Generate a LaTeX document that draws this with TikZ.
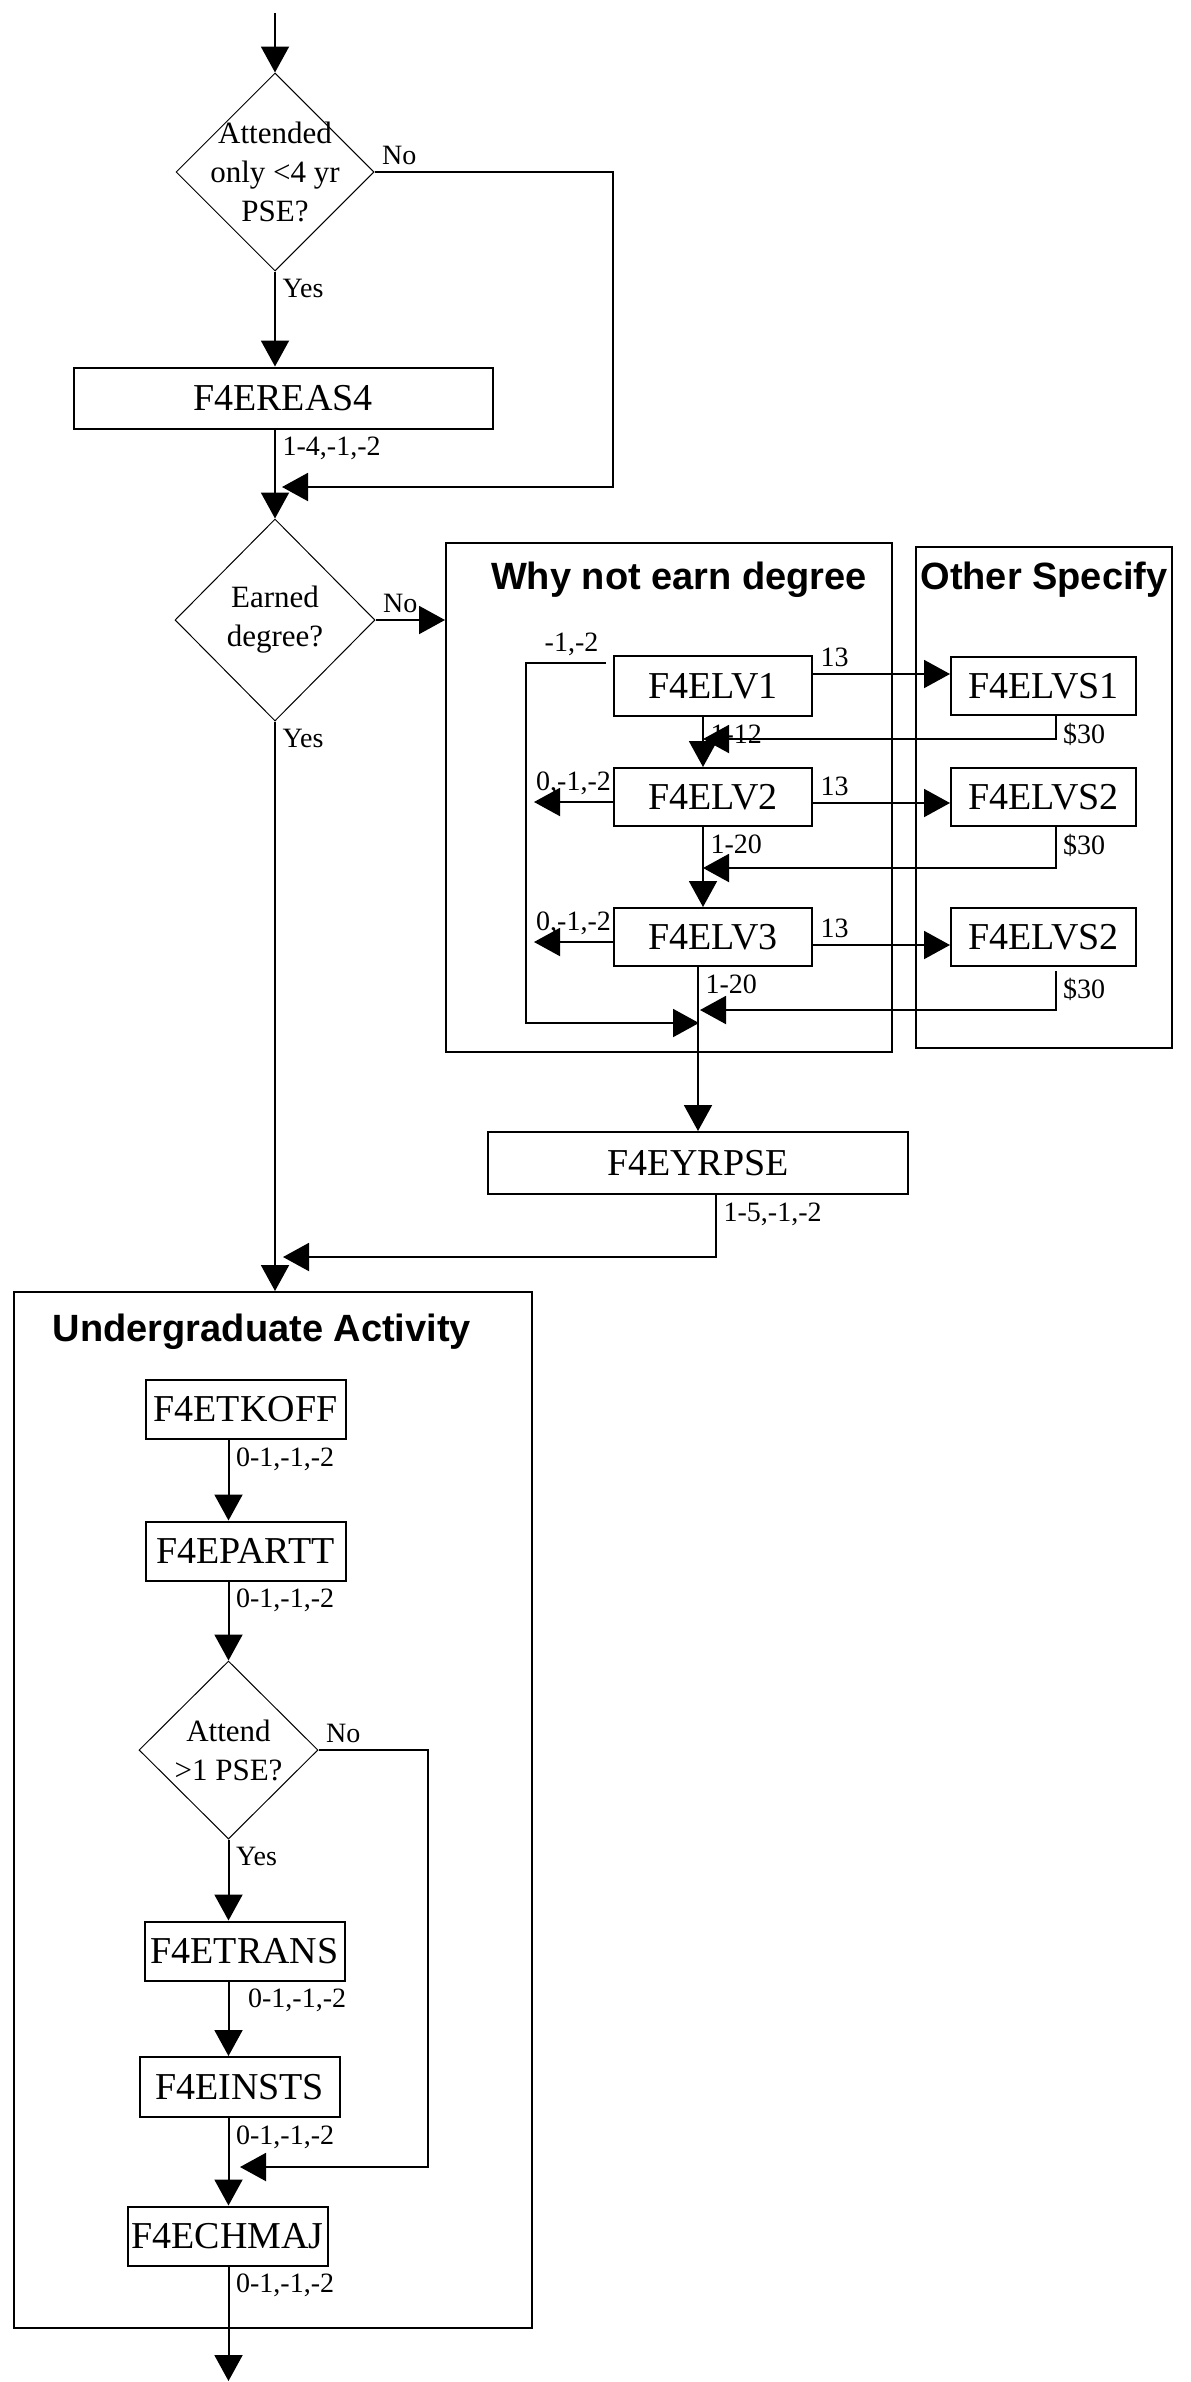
\documentclass[tikz,border=0pt]{standalone}
\usepackage{fontspec}
\setmainfont{Liberation Serif}
\setsansfont{Liberation Sans}
\usetikzlibrary{arrows.meta,shapes.geometric}

\begin{document}
\begin{tikzpicture}[x=0.5pt,y=-0.5pt,node distance=165.25pt,line width=1pt,>={Triangle[length=13pt,width=14pt]},every node/.style={font=\fontsize{14}{16}\selectfont}]
  \tikzstyle{box}=[draw,rectangle,inner sep=0pt,minimum width=100pt,minimum height=29.5pt,font=\fontsize{19}{23}\selectfont]
  \tikzstyle{ask}=[draw,diamond,aspect=1,line width=0.5pt,inner sep=-6pt,align=center,font=\fontsize{15.5}{19.5}\selectfont]
  \tikzstyle{panel}=[draw,rectangle,inner sep=0pt]
  \tikzstyle{heading}=[font=\sffamily\bfseries\fontsize{19}{23}\selectfont]
  \useasboundingbox (0,0) rectangle (1190,2382);

  \coordinate (top) at (275,13);
  \node[ask,minimum width=99pt,minimum height=99pt] (q1) at (275,172) {Attended\\only <4 yr\\PSE?};
  \node[box,minimum width=209.5pt,minimum height=30.5pt] (reas4) at (283,398) {F4EREAS4};
  \coordinate (c0) at (613,487);
  \coordinate (m0) at (282,487);
  \node[ask,minimum width=100pt,minimum height=101pt] (q2) at (275,620) {Earned\\degree?};

  \node[panel,minimum width=223pt,minimum height=254.5pt] (why) at (669,797.5) {};
  \node[heading] (whyt) at (679,580) {Why not earn degree};
  \node[panel,minimum width=128pt,minimum height=250.5pt] (other) at (1044,797.5) {};
  \node[heading] (othert) at (1044,580) {Other Specify};

  \node[box,minimum width=99pt,minimum height=30pt] (elv1) at (713,686) {F4ELV1};
  \node[box,minimum width=99pt,minimum height=29pt] (elv2) at (713,797) {F4ELV2};
  \node[box,minimum width=99pt,minimum height=29pt] (elv3) at (713,937) {F4ELV3};
  \node[box,minimum width=92.5pt,minimum height=29pt] (elvs1) [right of=elv1] {F4ELVS1};
  \node[box,minimum width=92.5pt,minimum height=29pt] (elvs2a) [right of=elv2] {F4ELVS2};
  \node[box,minimum width=92.5pt,minimum height=29pt] (elvs2b) [right of=elv3] {F4ELVS2};
  \coordinate (j1) at (703,739);
  \coordinate (j2) at (703,868);
  \coordinate (j3) at (700,1010);
  \coordinate (j4) at (699,1023);
  \coordinate (c4) at (526,1023);
  \coordinate (o2) at (534,802);
  \coordinate (o3) at (534,942);

  \node[box,minimum width=210pt,minimum height=31pt] (yrpse) at (698,1163) {F4EYRPSE};
  \coordinate (m1) at (283,1257);

  \node[panel,minimum width=259.25pt,minimum height=518pt] (ugrad) at (273,1810) {};
  \node[heading] (ugradt) at (262,1332) {Undergraduate Activity};
  \node[box] (tkoff) at (245.5,1409.5) {F4ETKOFF};
  \node[box] (partt) at (245.5,1551) {F4EPARTT};
  \node[ask,minimum width=89.5pt,minimum height=89pt] (q3) at (228.5,1750) {Attend\\>1 PSE?};
  \node[box] (trans) at (244.5,1951) {F4ETRANS};
  \node[box,minimum height=30pt] (insts) at (239.5,2087) {F4EINSTS};
  \node[box] (chmaj) at (227.5,2236) {F4ECHMAJ};
  \coordinate (c3) at (428,2167);
  \coordinate (m2) at (240,2167);
  \coordinate (bottom) at (228.5,2381);

  \draw[->] (top) -- (q1.north);
  \draw[->] (q1.south) -- node[pos=0,below right]{Yes} (q1.south |- reas4.north);
  \draw[->] (q1.east) node[above right]{No} -| (c0) -- (m0);
  \draw[->] (q1.south |- reas4.south) -- node[pos=0,below right]{1-4,-1,-2} (q2.north);
  \draw[->] (q2.east) node[above right]{No} -- (q2.east -| why.west);
  \draw[->] (q2.south) -- node[pos=0,below right]{Yes} (q2.south |- ugrad.north);

  \draw[->] ([yshift=6pt]elv1.east) node[above right]{13} -- ([yshift=6pt]elv1.east -| elvs1.west);
  \draw[->] ([yshift=-3pt]elv2.east) node[above right]{13} -- ([yshift=-3pt]elv2.east -| elvs2a.west);
  \draw[->] ([yshift=-4pt]elv3.east) node[above right]{13} -- ([yshift=-4pt]elv3.east -| elvs2b.west);
  \draw[->] ([xshift=-5pt]elv1.south) -- node[pos=0,below right]{1-12} ([xshift=-5pt]elv2.north);
  \draw[->] ([xshift=-5pt]elv2.south) -- node[pos=0,below right]{1-20} ([xshift=-5pt]elv3.north);
  \draw[->] (elv3.south -| yrpse.north) -- node[pos=0,below right]{1-20} (yrpse.north);
  \draw[->] ([xshift=6pt]elvs1.south) node[below right]{\$30} |- (j1);
  \draw[->] ([xshift=6pt]elvs2a.south) node[below right]{\$30} |- (j2);
  \draw[->] ([xshift=6pt,yshift=-2pt]elvs2b.south) node[below right]{\$30} |- (j3);
  \draw[->] ([yshift=-2.5pt]elv2.west) -- node[above]{0,-1,-2} (o2);
  \draw[->] ([yshift=-2.5pt]elv3.west) -- node[above]{0,-1,-2} (o3);
  \draw[->] ([xshift=-3.5pt,yshift=11.5pt]elv1.west) node[above left]{-1,-2} -| (c4) -- (j4);
  \draw[->] ([xshift=9pt]yrpse.south) node[below right]{1-5,-1,-2} |- (m1);

  \draw[->] (tkoff.south -| q3.north) -- node[pos=0,below right]{0-1,-1,-2} (partt.north -| q3.north);
  \draw[->] (partt.south -| q3.north) -- node[pos=0,below right]{0-1,-1,-2} (q3.north);
  \draw[->] (q3.south) -- node[pos=0,below right]{Yes} (trans.north -| q3.south);
  \draw[->] (q3.east) node[above right]{No} -| (c3) -- (m2);
  \draw[->] (trans.south -| q3.south) -- node[pos=0,below right,xshift=6pt]{0-1,-1,-2} (insts.north -| q3.south);
  \draw[->] (insts.south -| q3.south) -- node[pos=0,below right]{0-1,-1,-2} (chmaj.north -| q3.south);
  \draw[->] (chmaj.south -| q3.south) -- node[pos=0,below right]{0-1,-1,-2} (bottom);
\end{tikzpicture}
\end{document}
